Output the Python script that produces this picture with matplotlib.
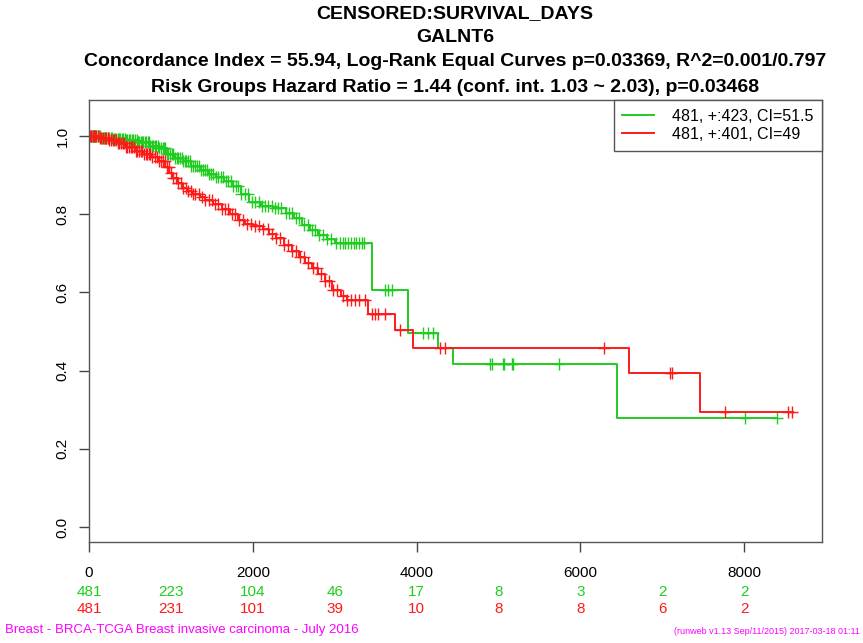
import matplotlib
matplotlib.use("Agg")
from matplotlib import pyplot as plt
import numpy as np

plt.rcParams['font.family'] = ['Liberation Sans', 'DejaVu Sans']

# Kaplan-Meier steps (time in days, survival after the drop)
green_t = [0, 150, 300, 450, 600, 750, 850, 950, 1050, 1150, 1250, 1350, 1450, 1550,
           1650, 1750, 1850, 1950, 2100, 2250, 2400, 2500, 2600, 2700, 2800, 2900,
           3000, 3455, 3890, 4260, 4445, 6450]
green_s = [1.0, 0.996, 0.993, 0.989, 0.984, 0.975, 0.968, 0.955, 0.944, 0.935, 0.924,
           0.912, 0.903, 0.895, 0.884, 0.872, 0.852, 0.830, 0.822, 0.815, 0.802, 0.790,
           0.772, 0.760, 0.748, 0.737, 0.726, 0.606, 0.496, 0.457, 0.418, 0.279]
green_end = 8400
green_cens = [20, 35, 50, 60, 75, 90, 105, 120, 140, 160, 180, 195, 210, 230, 250, 265,
              280, 300, 315, 330, 350, 365, 380, 400, 420, 440, 455, 470, 490, 505, 520,
              540, 560, 580, 600, 615, 630, 650, 665, 680, 700, 715, 730, 750, 770, 785,
              800, 820, 840, 860, 880, 900, 915, 930, 950, 970, 990, 1010, 1030, 1050,
              1070, 1090, 1110, 1130, 1150, 1170, 1190, 1210, 1230, 1250, 1275, 1300,
              1320, 1345, 1370, 1395, 1420, 1440, 1465, 1490, 1520, 1550, 1580, 1610,
              1640, 1670, 1700, 1730, 1760, 1790, 1820, 1860, 1900, 1940, 1990, 2030,
              2070, 2110, 2150, 2190, 2230, 2270, 2310, 2350, 2400, 2440, 2480, 2530,
              2570, 2620, 2670, 2720, 2760, 2810, 2860, 2910, 2960, 3020, 3060, 3100,
              3130, 3160, 3200, 3230, 3260, 3300, 3330, 3360, 3614, 3651, 3700, 4078,
              4139, 4200, 4896, 4920, 5055, 5067, 5165, 5177, 5739, 8010, 8400]

red_t = [0, 120, 250, 350, 450, 560, 660, 770, 850, 930, 980, 1030, 1090, 1140, 1200,
         1260, 1350, 1420, 1520, 1620, 1720, 1820, 1900, 2000, 2120, 2200, 2280, 2380,
         2480, 2560, 2640, 2720, 2800, 2880, 2970, 3080, 3150, 3410, 3740, 3960, 6595,
         7460]
red_s = [1.0, 0.995, 0.990, 0.982, 0.972, 0.962, 0.955, 0.945, 0.935, 0.921, 0.905,
         0.893, 0.880, 0.868, 0.858, 0.852, 0.843, 0.835, 0.825, 0.812, 0.800, 0.785,
         0.776, 0.770, 0.762, 0.750, 0.738, 0.722, 0.707, 0.690, 0.675, 0.662, 0.648,
         0.630, 0.605, 0.590, 0.581, 0.545, 0.504, 0.458, 0.394, 0.294]
red_end = 8600
red_cens = [15, 30, 45, 60, 75, 90, 110, 130, 150, 170, 190, 210, 230, 250, 270, 290,
            310, 330, 350, 370, 390, 410, 430, 450, 470, 490, 510, 530, 550, 570, 590,
            610, 630, 650, 670, 690, 710, 730, 750, 775, 800, 825, 850, 875, 900, 925,
            950, 975, 1000, 1030, 1060, 1090, 1120, 1150, 1180, 1210, 1240, 1270, 1300,
            1340, 1380, 1420, 1460, 1500, 1540, 1580, 1620, 1660, 1700, 1740, 1780,
            1830, 1880, 1930, 1980, 2030, 2080, 2130, 2180, 2230, 2280, 2330, 2380,
            2430, 2480, 2530, 2580, 2630, 2680, 2730, 2780, 2830, 2880, 2930, 2980,
            3030, 3100, 3150, 3200, 3250, 3300, 3370, 3455, 3492, 3529, 3614, 3797,
            4286, 4347, 6288, 7100, 7118, 7766, 8535, 8584]

legend_labels = ["481, +:423, CI=51.5", "481, +:401, CI=49"]

risk_times = [0, 1000, 2000, 3000, 4000, 5000, 6000, 7000, 8000]
green_risk = [481, 223, 104, 46, 17, 8, 3, 2, 2]
red_risk = [481, 231, 101, 39, 10, 8, 8, 6, 2]

titles = ["CENSORED:SURVIVAL_DAYS", "GALNT6",
          "Concordance Index = 55.94, Log-Rank Equal Curves p=0.03369, R^2=0.001/0.797",
          "Risk Groups Hazard Ratio = 1.44 (conf. int. 1.03 ~ 2.03), p=0.03468"]

GREEN = '#1FCC1F'
RED = '#FF1A1A'

fig = plt.figure(figsize=(8.63, 6.43), dpi=100)
ax = fig.add_axes([89/863, 1-542/643, (822-89)/863, (542-100)/643])


def km(ax, t, s, end, cens, color, label):
    tt = list(t) + [end]
    ss = list(s) + [s[-1]]
    ax.step(tt, ss, where='post', color=color, lw=1.4, label=label)
    idx = np.searchsorted(t, cens, side='right') - 1
    cy = np.array(s)[idx]
    ax.plot(cens, cy, ls='none', marker='+', ms=8, mew=1.0, color=color)


km(ax, green_t, green_s, green_end, green_cens, GREEN, legend_labels[0])
km(ax, red_t, red_s, red_end, red_cens, RED, legend_labels[1])

ax.set_xlim(0, 8950)
ax.set_ylim(-0.0384, 1.092)
ax.set_xticks([0, 2000, 4000, 6000, 8000])
ax.set_yticks([0.0, 0.2, 0.4, 0.6, 0.8, 1.0])
ax.set_yticklabels(['0.0', '0.2', '0.4', '0.6', '0.8', '1.0'], rotation=90, va='center')
ax.tick_params(axis='x', length=7, width=1, color='#444444', labelsize=11, pad=10)
ax.tick_params(axis='y', length=7, width=1, color='#444444', labelsize=11, pad=7)
for sp in ax.spines.values():
    sp.set_color('#555555')
    sp.set_linewidth(1.0)

leg = ax.legend(loc='upper right', borderaxespad=0, fancybox=False, edgecolor='#555555',
                fontsize=11.5, handlelength=2.0, handletextpad=1.1, borderpad=0.55,
                labelspacing=0.2, framealpha=1)
leg.get_frame().set_linewidth(1.0)

# number at risk
trans = matplotlib.transforms.blended_transform_factory(ax.transData, fig.transFigure)
for x, g, r in zip(risk_times, green_risk, red_risk):
    ax.text(x, 1-592/643, str(g), color=GREEN, ha='center', va='center', fontsize=11,
            transform=trans, clip_on=False)
    ax.text(x, 1-609/643, str(r), color=RED, ha='center', va='center', fontsize=11,
            transform=trans, clip_on=False)

# titles
for y, s in zip([14, 37, 62, 87], titles):
    fig.text(455/863, 1-y/643, s, ha='center', va='center', fontsize=14, fontweight='bold')

fig.text(5/863, 1-630/643, "Breast - BRCA-TCGA Breast invasive carcinoma - July 2016",
         color='#FF00FF', fontsize=9.5, ha='left', va='center')
fig.text(860/863, 1-631/643, "(runweb v1.13 Sep/11/2015) 2017-03-18 01:11",
         color='#FF00FF', fontsize=6.5, ha='right', va='center')

plt.savefig('out.png', dpi=100)
